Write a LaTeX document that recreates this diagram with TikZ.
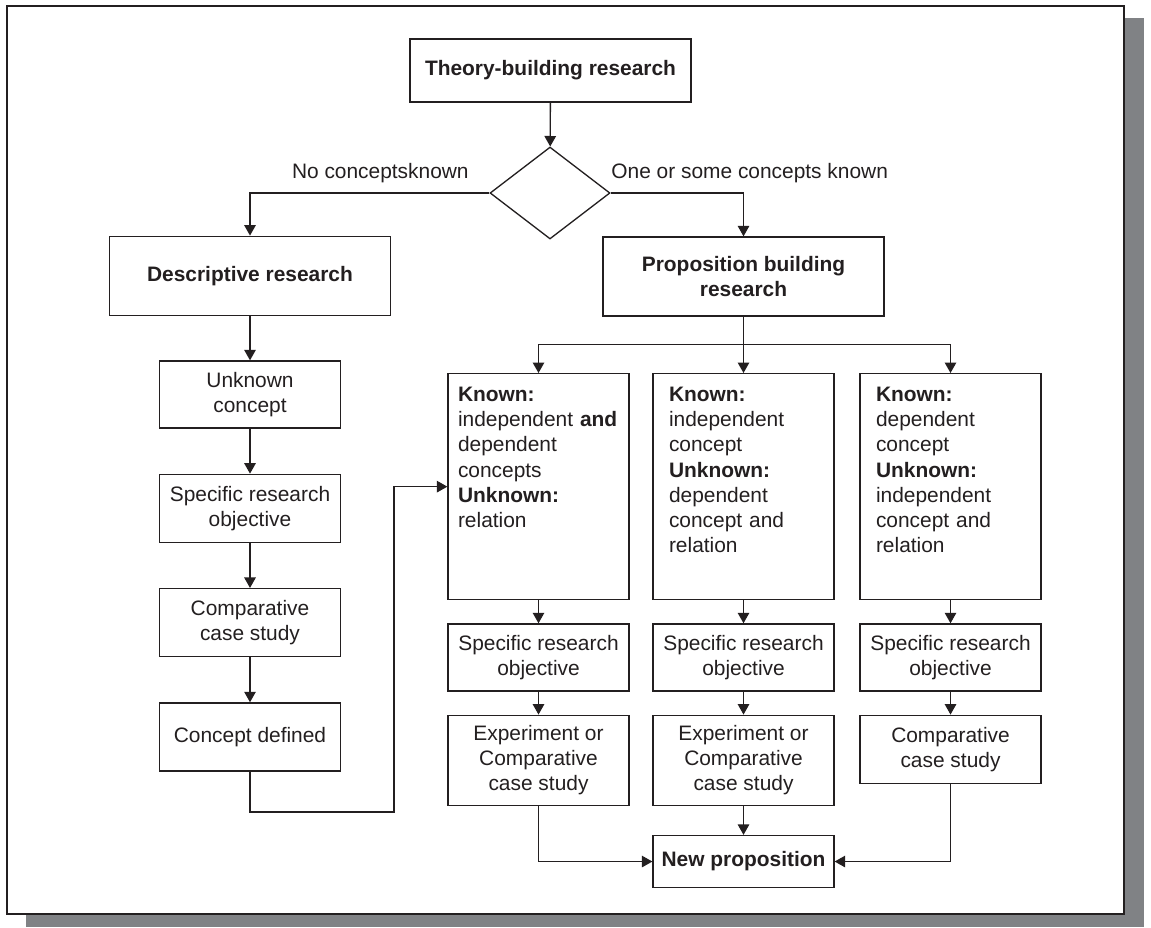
\documentclass[tikz,border=0pt]{standalone}
\usepackage{fontspec}
\setmainfont{Liberation Sans}
\usetikzlibrary{positioning,arrows.meta,shapes.geometric}
\definecolor{ink}{HTML}{231F20}
\definecolor{shadowgray}{HTML}{808285}
\newcommand\diagfont{\fontsize{11.9pt}{14.3pt}\selectfont}

\begin{document}
\begin{tikzpicture}[
  x=0.02cm,y=-0.02cm,color=ink,
  font=\diagfont,>={Triangle[length=2.1mm,width=2.3mm]},
  head/.style={draw,line width=0.75pt,font=\diagfont\bfseries,align=center,inner sep=0pt},
  box/.style={draw,line width=0.75pt,align=center,minimum width=3.62cm,inner sep=0pt},
  kbox/.style={draw,line width=0.75pt,align=left,anchor=north,text height=0.5cm,text depth=3.9cm,inner ysep=0.06cm},
  choice/.style={draw,line width=0.75pt,shape=diamond,minimum width=2.4cm,minimum height=1.84cm,inner sep=0pt},
  lbl/.style={inner sep=0pt},
  flow/.style={->,line width=0.75pt},
]
\useasboundingbox (0,0) rectangle (1151,927);

% frame with shadow
\fill[shadowgray] (26,18) rectangle (1144,927);
\draw[line width=1.1pt,fill=white] (7,6) rectangle (1124,914);

% top of the tree
\node[head,minimum width=5.62cm,minimum height=1.26cm] (theory) at (550.5,70.5) {Theory-building research};
\node[choice] (known) at (550,193) {};
\node[lbl,anchor=east] (lnone) at (469,173) {No conceptsknown};
\node[lbl,anchor=west] (lsome) at (611,173) {One or some concepts known};

\node[head,minimum width=5.61cm,minimum height=1.59cm] (desc) at (250,276) {Descriptive research};
\node[head,minimum width=5.62cm,minimum height=1.58cm] (prop) at (743.5,276.5) {Proposition building\\research};

% descriptive column
\node[box,minimum height=1.34cm] (unknown) at (250,394.5) {Unknown\\concept};
\node[box,minimum height=1.36cm,below=0.9cm of unknown] (obj0) {Specific research\\objective};
\node[box,minimum height=1.36cm,below=0.9cm of obj0]    (case0) {Comparative\\case study};
\node[box,minimum height=1.36cm,below=0.9cm of case0]   (defined) {Concept defined};

% proposition columns
\node[kbox,text width=3.22cm,inner xsep=0.2cm] (known1) at (538.5,373)
  {\textbf{Known:}\\independent \textbf{and}\\dependent\\concepts\\\textbf{Unknown:}\\relation};
\node[kbox,text width=2.98cm,inner xsep=0.32cm] (known2) at (743.5,373)
  {\textbf{Known:}\\independent\\concept\\\textbf{Unknown:}\\dependent\\concept and\\relation};
\node[kbox,text width=2.98cm,inner xsep=0.32cm] (known3) at (950.5,373)
  {\textbf{Known:}\\dependent\\concept\\\textbf{Unknown:}\\independent\\concept and\\relation};

\node[box,minimum height=1.34cm,below=0.46cm of known1] (obj1) {Specific research\\objective};
\node[box,minimum height=1.34cm,below=0.46cm of known2] (obj2) {Specific research\\objective};
\node[box,minimum height=1.34cm,below=0.46cm of known3] (obj3) {Specific research\\objective};

\node[box,minimum height=1.8cm,below=0.46cm of obj1]  (exp1) {Experiment or\\Comparative\\case study};
\node[box,minimum height=1.8cm,below=0.46cm of obj2]  (exp2) {Experiment or\\Comparative\\case study};
\node[box,minimum height=1.36cm,below=0.46cm of obj3] (case3) {Comparative\\case study};

\node[head,minimum width=3.62cm,minimum height=1.04cm,below=0.58cm of exp2] (newprop) {New proposition};

% connectors
\coordinate[below=0.56cm of prop] (fork);
\coordinate (bend) at (394,812);

\draw[flow] (theory) -- (known);
\draw[flow] (known.west) -| (desc);
\draw[flow] (known.east) -| (prop);
\draw[flow] (prop) -- (known2);
\draw[flow] (fork) -| (known1);
\draw[flow] (fork) -| (known3);

\foreach \a/\b in {desc/unknown,unknown/obj0,obj0/case0,case0/defined,
                   known1/obj1,known2/obj2,known3/obj3,
                   obj1/exp1,obj2/exp2,obj3/case3,exp2/newprop}
  \draw[flow] (\a) -- (\b);

\draw[flow] (defined) |- (bend) |- (known1);
\draw[flow] (exp1) |- (newprop);
\draw[flow] (case3) |- (newprop);
\end{tikzpicture}
\end{document}
